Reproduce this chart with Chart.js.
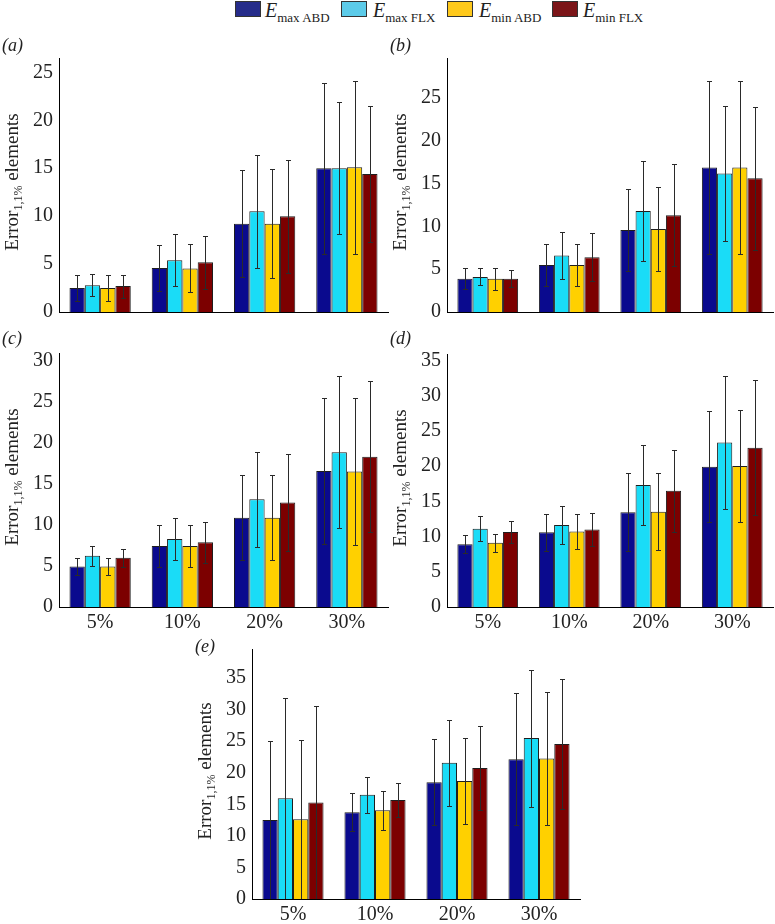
<!DOCTYPE html>
<html>
<head>
<meta charset="utf-8">
<script src="https://cdn.jsdelivr.net/npm/chart.js@4.4.1/dist/chart.umd.min.js"></script>
<style>
  body { margin: 0; background: #fff; }
  #wrap { position: relative; width: 775px; height: 924px; font-family: "Liberation Serif", "Times New Roman", serif; color: #222; }
  canvas { position: absolute; }
  .lbl { position: absolute; font-size: 18px; font-style: italic; line-height: 1; }
  .ytitle { position: absolute; font-size: 19px; white-space: nowrap; line-height: 1; transform: translate(-50%, -50%) rotate(-90deg); }
  .ytitle sub { font-size: 12px; vertical-align: -4px; }
  .sw { position: absolute; top: 1px; width: 26px; height: 16px; border: 1px solid #333; box-sizing: border-box; }
  .lg { position: absolute; top: 0; font-size: 20px; line-height: 1; white-space: nowrap; }
  .lg sub { font-size: 13px; font-style: normal; vertical-align: -5px; }
</style>
</head>
<body>
<div id="wrap">
  <div class="sw" style="left:235px;background:#262c8a"></div>
  <div class="lg" style="left:265px"><i>E</i><sub>max ABD</sub></div>
  <div class="sw" style="left:341px;background:#5ccbe9"></div>
  <div class="lg" style="left:373px"><i>E</i><sub>max FLX</sub></div>
  <div class="sw" style="left:447px;background:#ffc91c"></div>
  <div class="lg" style="left:479px"><i>E</i><sub>min ABD</sub></div>
  <div class="sw" style="left:552px;background:#7b1518"></div>
  <div class="lg" style="left:583px"><i>E</i><sub>min FLX</sub></div>
</div>
<script>
// categories and series
const categories = ['5%', '10%', '20%', '30%'];
const seriesNames = ['Emax ABD', 'Emax FLX', 'Emin ABD', 'Emin FLX'];
const barColors = ['#0a0a8e', '#1adcf7', '#ffd000', '#7c0000'];

// mean values, one row per series (maxABD, maxFLX, minABD, minFLX)
const meanA = [[2.5, 4.6, 9.2, 15.0], [2.8, 5.4, 10.5, 15.0], [2.5, 4.55, 9.2, 15.1], [2.7, 5.2, 10.0, 14.4]];
const sdA   = [[1.4, 2.4, 5.6, 8.9], [1.15, 2.7, 5.9, 6.9], [1.4, 2.5, 5.7, 9.0], [1.2, 2.75, 5.9, 7.1]];
const meanB = [[3.9, 5.5, 9.6, 16.9], [4.1, 6.6, 11.8, 16.2], [3.9, 5.5, 9.7, 16.9], [3.9, 6.4, 11.3, 15.65]];
const sdB   = [[1.2, 2.5, 4.8, 10.1], [1.0, 2.7, 5.8, 7.9], [1.3, 2.5, 4.9, 10.1], [1.0, 2.8, 5.95, 8.35]];
const meanC = [[4.95, 7.45, 10.9, 16.6], [6.25, 8.3, 13.15, 18.9], [4.95, 7.45, 10.9, 16.55], [6.0, 7.9, 12.75, 18.35]];
const sdC   = [[1.0, 2.6, 5.2, 8.9], [1.2, 2.6, 5.8, 9.3], [1.0, 2.6, 5.2, 9.0], [1.1, 2.5, 5.9, 9.2]];
const meanD = [[8.9, 10.6, 13.45, 19.9], [11.1, 11.65, 17.3, 23.35], [9.1, 10.7, 13.5, 20.0], [10.65, 11.0, 16.5, 22.6]];
const sdD   = [[1.3, 2.6, 5.5, 7.9], [1.75, 2.7, 5.65, 9.45], [1.25, 2.5, 5.45, 7.95], [1.6, 2.4, 5.8, 9.6]];
const meanE = [[12.5, 13.75, 18.5, 22.15], [15.95, 16.5, 21.6, 25.5], [12.65, 14.05, 18.7, 22.25], [15.3, 15.7, 20.75, 24.55]];
const sdE   = [[12.5, 3.0, 6.85, 10.5], [15.95, 2.8, 6.8, 10.85], [12.6, 3.05, 6.75, 10.5], [15.3, 2.65, 6.7, 10.25]];

// axis ends and tick labels
const yMaxes = [26.5, 29.7, 31, 35.9, 39.6];
const ticksA = [0, 5, 10, 15, 20, 25];
const ticksB = [0, 5, 10, 15, 20, 25];
const ticksC = [0, 5, 10, 15, 20, 25, 30];
const ticksD = [0, 5, 10, 15, 20, 25, 30, 35];
const ticksE = [0, 5, 10, 15, 20, 25, 30, 35];
const panelLetters = ['a', 'b', 'c', 'd', 'e'];

// plot area of each panel in page pixels: axis x, right, top, baseline; letter offset
const panels = [
  { mean: meanA, sd: sdA, ticks: ticksA, box: [59, 388, 52, 312], xLabels: false, lblUp: 16 },
  { mean: meanB, sd: sdB, ticks: ticksB, box: [447, 773, 52, 312], xLabels: false, lblUp: 16 },
  { mean: meanC, sd: sdC, ticks: ticksC, box: [59, 388, 347, 607], xLabels: true, lblUp: 18 },
  { mean: meanD, sd: sdD, ticks: ticksD, box: [447, 773, 348, 607], xLabels: true, lblUp: 19 },
  { mean: meanE, sd: sdE, ticks: ticksE, box: [252, 580, 643, 899], xLabels: true, lblUp: 6 }
];

const YW = 50, XH = 30, PT = 12, PR = 2;
const tickFont = { family: '"Liberation Serif", serif', size: 20 };

// error bars drawn from each bar's own position and the y scale
const errorBars = {
  id: 'errorBars',
  afterDatasetsDraw(chart) {
    const ctx = chart.ctx, y = chart.scales.y, area = chart.chartArea;
    ctx.save();
    ctx.beginPath();
    ctx.rect(area.left, area.top - 1, area.right - area.left, area.bottom - area.top + 1);
    ctx.clip();
    ctx.strokeStyle = '#2a2a2a';
    ctx.lineWidth = 1;
    chart.data.datasets.forEach((ds, i) => {
      chart.getDatasetMeta(i).data.forEach((bar, j) => {
        const v = ds.data[j], e = ds.sd[j];
        const top = Math.round(y.getPixelForValue(v + e)) + 0.5;
        const bot = Math.round(y.getPixelForValue(Math.max(0, v - e))) + 0.5;
        const x = Math.round(bar.x) + 0.5;
        ctx.beginPath();
        ctx.moveTo(x, top); ctx.lineTo(x, bot);
        ctx.moveTo(x - 2.5, top); ctx.lineTo(x + 2.5, top);
        ctx.moveTo(x - 2.5, bot); ctx.lineTo(x + 2.5, bot);
        ctx.stroke();
      });
    });
    ctx.restore();
  }
};

const wrap = document.getElementById('wrap');

panels.forEach((p, k) => {
  const [ax, right, top, base] = p.box;
  const cv = document.createElement('canvas');
  const w = YW + (right - ax) + PR, h = PT + (base - top) + XH;
  cv.width = w; cv.height = h;
  cv.style.left = (ax - YW) + 'px';
  cv.style.top = (top - PT) + 'px';
  wrap.appendChild(cv);

  // panel letter and y title
  const lbl = document.createElement('div');
  lbl.className = 'lbl';
  lbl.innerHTML = '(' + panelLetters[k] + ')';
  lbl.style.left = (ax - 57) + 'px';
  lbl.style.top = (top - p.lblUp) + 'px';
  wrap.appendChild(lbl);
  const yt = document.createElement('div');
  yt.className = 'ytitle';
  yt.innerHTML = 'Error<sub>1,1%</sub> elements';
  yt.style.left = (ax - 46) + 'px';
  yt.style.top = ((top + base) / 2) + 'px';
  wrap.appendChild(yt);

  new Chart(cv.getContext('2d'), {
    type: 'bar',
    data: {
      labels: categories,
      datasets: seriesNames.map((name, i) => ({
        label: name,
        data: p.mean[i],
        sd: p.sd[i],
        backgroundColor: barColors[i],
        borderColor: '#1e1e1e',
        borderWidth: 1,
        categoryPercentage: 0.745,
        barPercentage: 1
      }))
    },
    options: {
      responsive: false,
      animation: false,
      layout: { padding: { top: PT, right: PR, left: 0, bottom: 0 } },
      plugins: { legend: { display: false }, tooltip: { enabled: false } },
      scales: {
        x: {
          grid: { display: false, drawTicks: false },
          border: { color: '#000', width: 1 },
          ticks: { display: p.xLabels, font: tickFont, color: '#222', padding: 4 },
          afterFit: s => { s.height = XH; }
        },
        y: {
          min: 0, max: yMaxes[k],
          grid: { display: false, drawTicks: false },
          border: { color: '#000', width: 1 },
          ticks: { font: tickFont, color: '#222', padding: 6, autoSkip: false },
          // tick values come from the panel's tick list, not the axis end
          afterBuildTicks: s => { s.ticks = p.ticks.map(v => ({ value: v })); },
          afterFit: s => { s.width = YW; }
        }
      }
    },
    plugins: [errorBars]
  });
});
</script>
</body>
</html>
